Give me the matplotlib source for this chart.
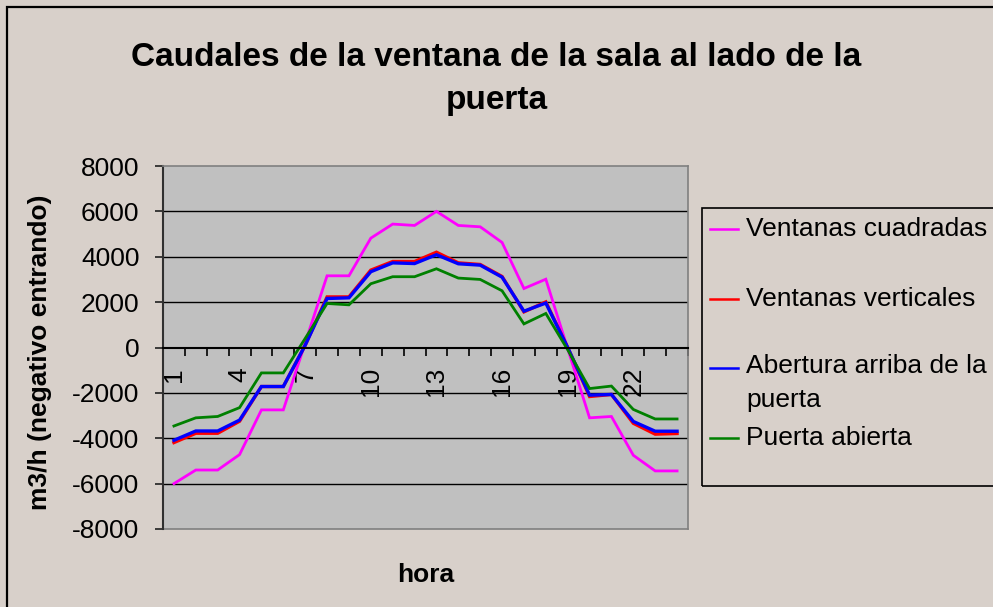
import matplotlib
matplotlib.use("Agg")
from matplotlib import pyplot as plt
from matplotlib.lines import Line2D
from matplotlib.patches import Rectangle

plt.rcParams["font.family"] = ["Liberation Sans", "DejaVu Sans"]
plt.rcParams["axes.unicode_minus"] = False

hours = list(range(1, 25))
hour_labels = [1, 4, 7, 10, 13, 16, 19, 22]

cuadradas = [-6000, -5400, -5400, -4720, -2750, -2750, 200, 3160, 3160, 4820, 5440, 5380,
             6000, 5380, 5320, 4630, 2600, 3010, -50, -3100, -3040, -4750, -5440, -5440]
verticales = [-4190, -3780, -3780, -3250, -1720, -1720, 100, 2230, 2230, 3410, 3790, 3790,
              4200, 3730, 3660, 3130, 1570, 2010, 0, -2160, -2070, -3340, -3820, -3790]
abertura = [-4090, -3680, -3680, -3200, -1720, -1720, 100, 2160, 2190, 3340, 3730, 3700,
            4090, 3690, 3630, 3100, 1600, 1960, 0, -2100, -2070, -3260, -3690, -3690]
puerta = [-3460, -3100, -3040, -2650, -1120, -1120, 400, 1940, 1880, 2810, 3120, 3120,
          3470, 3060, 3000, 2500, 1040, 1500, -100, -1810, -1700, -2730, -3150, -3150]

series = [
    ("Ventanas cuadradas", cuadradas, "#FF00FF", 2.0),
    ("Ventanas verticales", verticales, "#FF0000", 2.4),
    ("Abertura arriba de la\npuerta", abertura, "#0000FF", 2.4),
    ("Puerta abierta", puerta, "#008000", 2.0),
]

W, H = 993, 607
fig = plt.figure(figsize=(W / 100, H / 100), dpi=100, facecolor="#D8D0CA")


def fx(x):
    return x / W


def fy(y):
    return 1 - y / H


ax = fig.add_axes([fx(163), fy(529), (688 - 163) / W, (529 - 166) / H])
ax.set_facecolor("#C0C0C0")

for name, vals, col, lw in series:
    ax.plot(hours, vals, color=col, lw=lw, solid_joinstyle="miter")

ax.set_xlim(0.5, 24.5)
ax.set_ylim(-8000, 8000)
ax.set_yticks(range(-8000, 8001, 2000))
ax.tick_params(axis="y", direction="out", length=6, width=1.2, pad=11,
               labelsize=19, color="#202020")
for v in range(-6000, 6001, 2000):
    if v != 0:
        ax.axhline(v, color="black", lw=1.0, zorder=1)

# category axis sits at zero, tick marks between categories
ax.spines["bottom"].set_position(("data", 0))
ax.spines["bottom"].set_color("black")
ax.spines["bottom"].set_linewidth(1.5)
ax.set_xticks([h - 0.5 for h in hours] + [24.5])
ax.set_xticklabels([])
ax.set_xticks(hour_labels, minor=True)
ax.set_xticklabels([str(h) for h in hour_labels], minor=True, rotation=90, fontsize=19)
ax.tick_params(axis="x", which="major", direction="out", length=6, width=1.2, color="black")
ax.tick_params(axis="x", which="minor", length=0, pad=14)

ax.spines["left"].set_color("#303030")
ax.spines["left"].set_linewidth(1.5)
for s in ["top", "right"]:
    ax.spines[s].set_color("#808080")
    ax.spines[s].set_linewidth(1.2)
ax.axhline(-8000, color="#808080", lw=1.2, clip_on=False)

fig.text(0.5, fy(58), "Caudales de la ventana de la sala al lado de la",
         ha="center", va="center", fontsize=24, fontweight="bold")
fig.text(0.5, fy(100), "puerta", ha="center", va="center", fontsize=24, fontweight="bold")
fig.text(fx(40), fy(352), "m3/h (negativo entrando)", rotation=90, ha="center", va="center",
         fontsize=19, fontweight="bold")
fig.text(fx(426), fy(575), "hora", ha="center", va="center", fontsize=19, fontweight="bold")

# legend box
fig.add_artist(Rectangle((fx(702), fy(486)), fx(1010) - fx(702), fy(208) - fy(486),
                         transform=fig.transFigure, fill=False, edgecolor="black", lw=1.2))
legend_y = [229, 299, 368, 438]
for (name, vals, col, lw), y in zip(series, legend_y):
    fig.add_artist(Line2D([fx(710), fx(738)], [fy(y), fy(y)], color=col, lw=1.8,
                          transform=fig.transFigure))
    if "\n" in name:
        fig.text(fx(746), fy(y - 14), name, ha="left", va="top", fontsize=19, linespacing=1.5)
    else:
        fig.text(fx(746), fy(y), name, ha="left", va="center", fontsize=19)

# chart border
fig.add_artist(Rectangle((fx(7), fy(640)), fx(1020) - fx(7), fy(7) - fy(640),
                         transform=fig.transFigure, fill=False, edgecolor="black", lw=1.6))

fig.savefig("out.png", dpi=100, facecolor=fig.get_facecolor())
